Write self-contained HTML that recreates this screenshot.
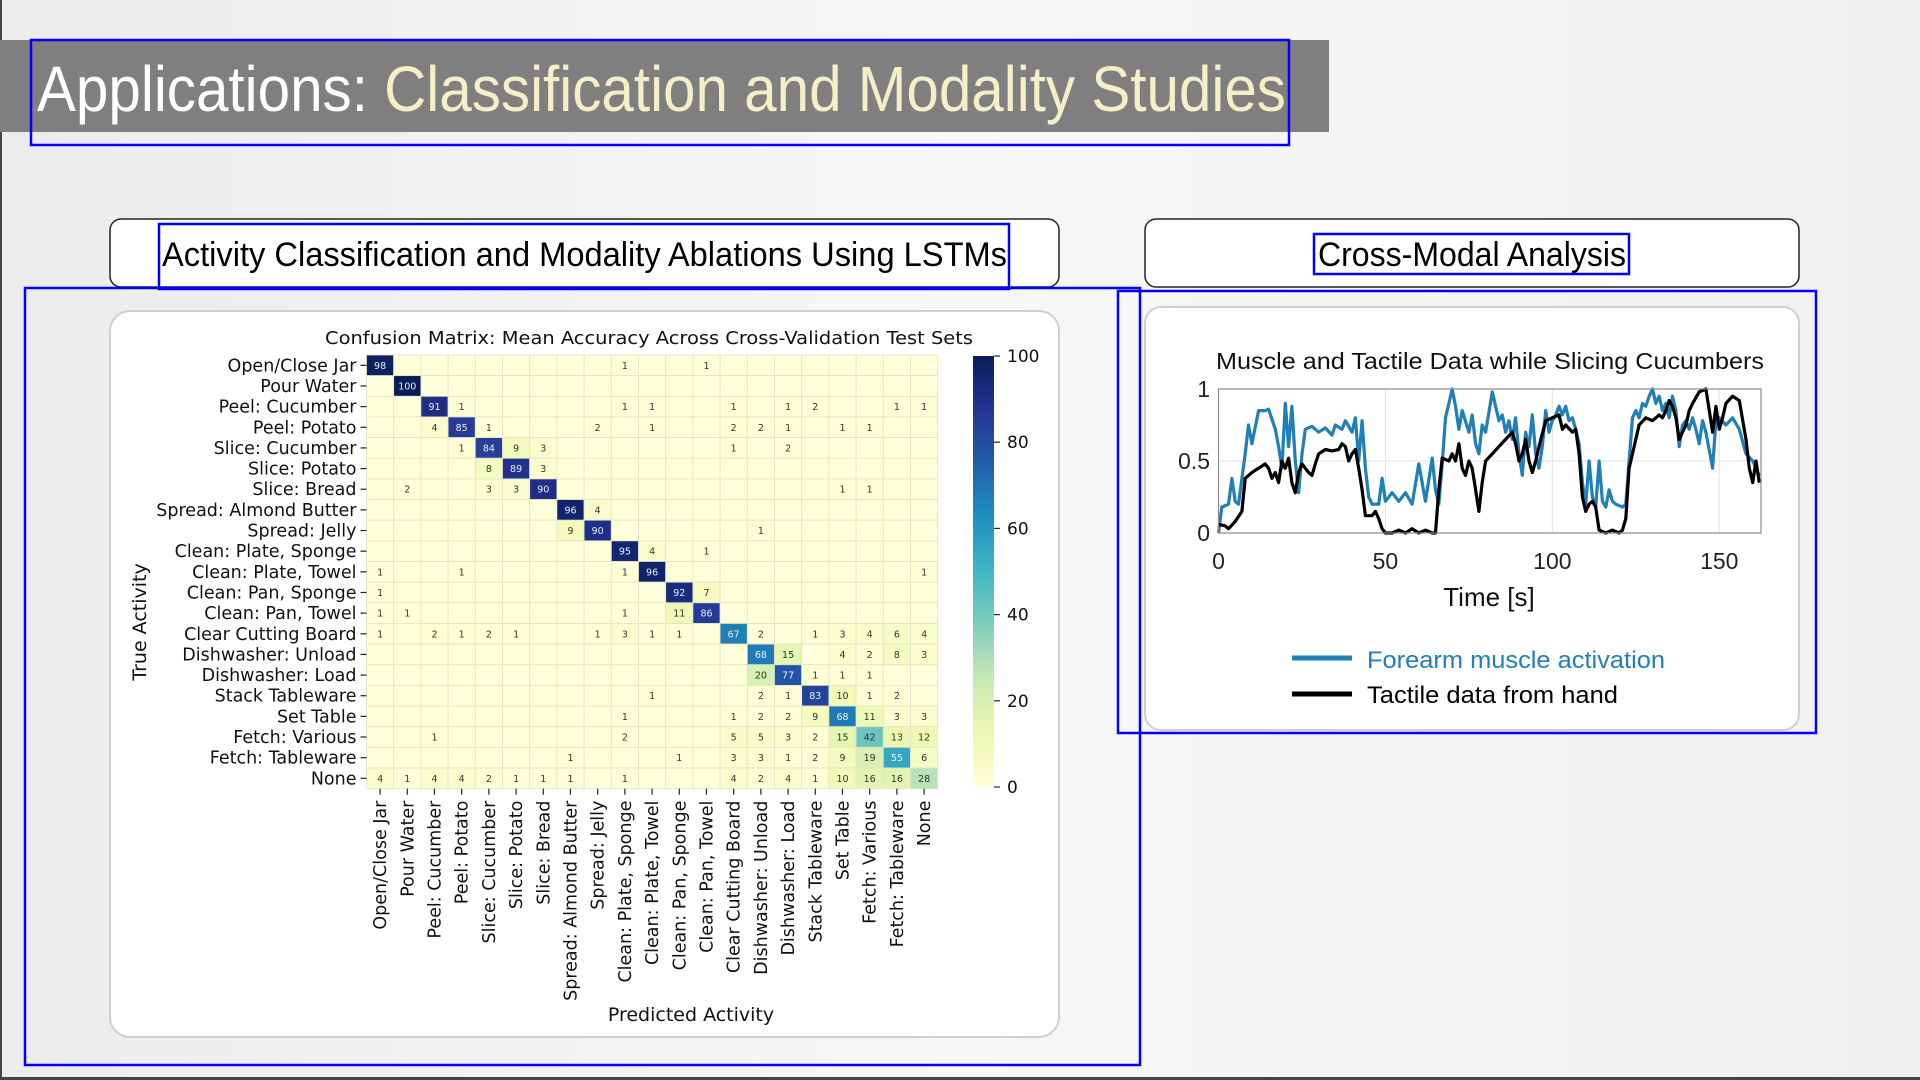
<!DOCTYPE html>
<html><head><meta charset="utf-8"><title>Applications: Classification and Modality Studies</title>
<style>
html,body{margin:0;padding:0;width:1920px;height:1080px;overflow:hidden;background:#f2f2f2;}
svg{display:block;}
</style></head>
<body>
<svg id="slide" width="1920" height="1080" viewBox="0 0 1920 1080" xmlns="http://www.w3.org/2000/svg">
<defs>
<linearGradient id="bg" x1="0" y1="0" x2="1" y2="0"><stop offset="0" stop-color="#ececec"/><stop offset="0.5" stop-color="#f7f7f7"/><stop offset="1" stop-color="#f0f0f0"/></linearGradient>
<linearGradient id="cbar" x1="0" y1="1" x2="0" y2="0">
<stop offset="0" stop-color="#ffffd9"/><stop offset="0.125" stop-color="#edf8b1"/><stop offset="0.25" stop-color="#c7e9b4"/><stop offset="0.375" stop-color="#7fcdbb"/><stop offset="0.5" stop-color="#41b6c4"/><stop offset="0.625" stop-color="#1d91c0"/><stop offset="0.75" stop-color="#225ea8"/><stop offset="0.875" stop-color="#253494"/><stop offset="1" stop-color="#081d58"/>
</linearGradient>
</defs>
<rect x="0" y="0" width="1920" height="1080" fill="url(#bg)"/>
<rect x="0" y="0" width="2" height="1080" fill="#444"/>
<rect x="0" y="1077" width="1920" height="3" fill="#444"/>

<rect x="0" y="40" width="1329" height="92" fill="#7f7f7f"/>
<text x="37" y="111" font-family="Liberation Sans, sans-serif" font-size="64" textLength="1249" lengthAdjust="spacingAndGlyphs"><tspan fill="#ffffff">Applications: </tspan><tspan fill="#f4efc6">Classification and Modality Studies</tspan></text>
<rect x="31" y="40" width="1258" height="105" fill="none" stroke="#0000ff" stroke-width="2.5"/>

<rect x="110" y="219" width="949" height="68" rx="11" fill="#ffffff" stroke="#222" stroke-width="1.5"/>
<text x="162" y="266" font-family="Liberation Sans, sans-serif" font-size="34" fill="#000" textLength="845" lengthAdjust="spacingAndGlyphs">Activity Classification and Modality Ablations Using LSTMs</text>
<rect x="159" y="224" width="850" height="65" fill="none" stroke="#0000ff" stroke-width="2.5"/>

<rect x="1145" y="219" width="654" height="68" rx="11" fill="#ffffff" stroke="#222" stroke-width="1.5"/>
<text x="1318" y="266" font-family="Liberation Sans, sans-serif" font-size="34" fill="#000" textLength="308" lengthAdjust="spacingAndGlyphs">Cross-Modal Analysis</text>
<rect x="1314" y="234" width="315" height="40" fill="none" stroke="#0000ff" stroke-width="2.5"/>

<rect x="110" y="311" width="949" height="726" rx="20" fill="#ffffff" stroke="#cfcfcf" stroke-width="2"/>
<rect x="1145" y="307" width="654" height="423" rx="16" fill="#ffffff" stroke="#cfcfcf" stroke-width="2"/>

<g id="cm"></g>
<g id="lc"></g>

<rect x="25" y="288" width="1115" height="777" fill="none" stroke="#0000ff" stroke-width="2.5"/>
<rect x="1118" y="291" width="698" height="442" fill="none" stroke="#0000ff" stroke-width="2.5"/>
</svg>
<script>
// ---------- Confusion matrix data ----------
const activities = ["Open/Close Jar","Pour Water","Peel: Cucumber","Peel: Potato","Slice: Cucumber","Slice: Potato","Slice: Bread","Spread: Almond Butter","Spread: Jelly","Clean: Plate, Sponge","Clean: Plate, Towel","Clean: Pan, Sponge","Clean: Pan, Towel","Clear Cutting Board","Dishwasher: Unload","Dishwasher: Load","Stack Tableware","Set Table","Fetch: Various","Fetch: Tableware","None"];
const row00 = [98,0,0,0,0,0,0,0,0,1,0,0,1,0,0,0,0,0,0,0,0];
const row01 = [0,100,0,0,0,0,0,0,0,0,0,0,0,0,0,0,0,0,0,0,0];
const row02 = [0,0,91,1,0,0,0,0,0,1,1,0,0,1,0,1,2,0,0,1,1];
const row03 = [0,0,4,85,1,0,0,0,2,0,1,0,0,2,2,1,0,1,1,0,0];
const row04 = [0,0,0,1,84,9,3,0,0,0,0,0,0,1,0,2,0,0,0,0,0];
const row05 = [0,0,0,0,8,89,3,0,0,0,0,0,0,0,0,0,0,0,0,0,0];
const row06 = [0,2,0,0,3,3,90,0,0,0,0,0,0,0,0,0,0,1,1,0,0];
const row07 = [0,0,0,0,0,0,0,96,4,0,0,0,0,0,0,0,0,0,0,0,0];
const row08 = [0,0,0,0,0,0,0,9,90,0,0,0,0,0,1,0,0,0,0,0,0];
const row09 = [0,0,0,0,0,0,0,0,0,95,4,0,1,0,0,0,0,0,0,0,0];
const row10 = [1,0,0,1,0,0,0,0,0,1,96,0,0,0,0,0,0,0,0,0,1];
const row11 = [1,0,0,0,0,0,0,0,0,0,0,92,7,0,0,0,0,0,0,0,0];
const row12 = [1,1,0,0,0,0,0,0,0,1,0,11,86,0,0,0,0,0,0,0,0];
const row13 = [1,0,2,1,2,1,0,0,1,3,1,1,0,67,2,0,1,3,4,6,4];
const row14 = [0,0,0,0,0,0,0,0,0,0,0,0,0,0,68,15,0,4,2,8,3];
const row15 = [0,0,0,0,0,0,0,0,0,0,0,0,0,0,20,77,1,1,1,0,0];
const row16 = [0,0,0,0,0,0,0,0,0,0,1,0,0,0,2,1,83,10,1,2,0];
const row17 = [0,0,0,0,0,0,0,0,0,1,0,0,0,1,2,2,9,68,11,3,3];
const row18 = [0,0,1,0,0,0,0,0,0,2,0,0,0,5,5,3,2,15,42,13,12];
const row19 = [0,0,0,0,0,0,0,1,0,0,0,1,0,3,3,1,2,9,19,55,6];
const row20 = [4,1,4,4,2,1,1,1,0,1,0,0,0,4,2,4,1,10,16,16,28];
const matrix = [row00,row01,row02,row03,row04,row05,row06,row07,row08,row09,row10,row11,row12,row13,row14,row15,row16,row17,row18,row19,row20];
const colorbarTicks = [0,20,40,60,80,100];

// ---------- Line chart data ----------
const muscleTime = [0,1,3,4,5,6,8,9,10,12,14,15,17,18,19,20,21,22,23,24,25,26,28,30,32,34,35,37,38,40,41,42,43,44,45,46,48,49,50,52,54,56,58,60,62,64,65,66,67,68,69,70,71,72,73,75,76,77,78,79,80,82,84,85,86,87,88,89,90,91,92,93,94,95,96,97,98,99,100,101,102,103,104,105,106,107,108,109,110,111,112,113,114,115,116,117,118,119,121,122,123,124,125,126,127,128,129,130,131,132,133,134,135,136,137,138,139,140,141,142,143,144,145,146,148,149,150,152,154,156,158,160,162];
const muscleValue = [0,0.18,0.2,0.38,0.22,0.2,0.55,0.75,0.62,0.85,0.85,0.86,0.72,0.6,0.45,0.9,0.6,0.88,0.5,0.28,0.55,0.72,0.74,0.7,0.73,0.68,0.75,0.72,0.78,0.7,0.8,0.5,0.78,0.45,0.25,0.2,0.2,0.38,0.22,0.28,0.22,0.28,0.2,0.48,0.22,0.52,0.3,0.2,0.48,0.8,0.9,1.0,0.88,0.72,0.85,0.7,0.82,0.62,0.55,0.75,0.7,0.98,0.78,0.82,0.7,0.78,0.65,0.8,0.55,0.4,0.7,0.6,0.82,0.55,0.45,0.6,0.85,0.7,0.78,0.82,0.88,0.82,0.88,0.78,0.8,0.72,0.62,0.35,0.2,0.5,0.25,0.18,0.5,0.22,0.18,0.3,0.22,0.2,0.18,0.2,0.5,0.8,0.85,0.8,0.9,0.88,0.95,1.0,0.9,0.95,0.85,0.9,0.8,0.95,0.85,0.6,0.75,0.78,0.72,0.8,0.72,0.62,0.78,0.7,0.45,0.78,0.8,0.75,0.8,0.72,0.55,0.5,0.4];
const tactileTime = [0,2,3,5,7,8,10,12,14,15,16,17,18,19,20,21,22,23,24,25,26,27,28,29,30,32,34,36,37,38,39,40,41,42,43,44,46,47,48,49,50,52,54,56,58,60,62,64,65,66,67,69,70,71,72,73,74,75,76,77,78,79,80,82,84,86,88,89,90,91,92,93,94,95,96,98,100,102,103,104,106,107,108,109,110,111,112,113,114,116,118,120,121,122,123,124,126,128,130,132,133,134,135,136,137,138,139,140,141,142,144,146,147,148,149,150,151,152,154,156,158,159,160,161,162];
const tactileValue = [0.06,0.05,0.03,0.08,0.15,0.38,0.42,0.45,0.48,0.45,0.38,0.42,0.35,0.5,0.45,0.52,0.35,0.28,0.42,0.48,0.45,0.42,0.4,0.48,0.55,0.58,0.57,0.58,0.62,0.6,0.5,0.55,0.58,0.45,0.3,0.12,0.12,0.15,0.1,0.03,0,0,0.02,0,0.03,0,0.02,0,0,0.3,0.52,0.5,0.55,0.5,0.62,0.45,0.4,0.5,0.45,0.3,0.15,0.35,0.5,0.55,0.6,0.65,0.7,0.62,0.5,0.55,0.65,0.5,0.42,0.5,0.6,0.78,0.8,0.82,0.72,0.75,0.7,0.72,0.55,0.25,0.15,0.2,0.22,0.18,0.02,0,0.02,0,0.02,0.1,0.45,0.55,0.75,0.8,0.78,0.82,0.8,0.85,0.92,0.88,0.8,0.65,0.7,0.75,0.85,0.9,0.98,1.0,0.85,0.7,0.88,0.72,0.8,0.9,0.95,0.92,0.65,0.45,0.35,0.5,0.35];
const xTicks = [0,50,100,150];
const yTicks = [0,0.5,1];
const yTickLabels = ["0","0.5","1"];

const NS = "http://www.w3.org/2000/svg";
function mk(parent, tag, attrs, text){
  const e = document.createElementNS(NS, tag);
  for (const k in attrs) e.setAttribute(k, attrs[k]);
  if (text !== undefined) e.textContent = text;
  parent.appendChild(e);
  return e;
}
const STOPS = ["#ffffd9","#edf8b1","#c7e9b4","#7fcdbb","#41b6c4","#1d91c0","#225ea8","#253494","#081d58"];
function hex(h){return [parseInt(h.slice(1,3),16),parseInt(h.slice(3,5),16),parseInt(h.slice(5,7),16)];}
function cmap(v){
  const t = Math.max(0,Math.min(1,v/100))*(STOPS.length-1);
  const i = Math.min(STOPS.length-2, Math.floor(t)); const f = t-i;
  const a = hex(STOPS[i]), b = hex(STOPS[i+1]);
  return "rgb("+a.map((x,k)=>Math.round(x+(b[k]-x)*f)).join(",")+")";
}

// ---------- Confusion matrix ----------
(function(){
  const g = document.getElementById("cm");
  const X0 = 366.5, Y0 = 355, CW = 27.2, RH = 20.65;
  const n = activities.length;
  const colX = j => X0 + j*CW;
  const rowY = i => Y0 + i*RH;
  const DF = "DejaVu Sans, Liberation Sans, sans-serif";
  const title = mk(g,"text",{x:649,y:344,"font-family":DF,"font-size":18,"text-anchor":"middle",fill:"#111",textLength:648,lengthAdjust:"spacingAndGlyphs"},"Confusion Matrix: Mean Accuracy Across Cross-Validation Test Sets");
  
  
  for (let i=0;i<n;i++){
    for (let j=0;j<n;j++){
      const v = matrix[i][j];
      const r = mk(g,"rect",{x:colX(j),y:rowY(i),width:CW,height:RH,fill:cmap(v),stroke:"#e2e2c8","stroke-width":0.8});
      
      
      if (v>0){
        const t = mk(g,"text",{x:colX(j)+CW/2,y:rowY(i)+RH/2+3.5,"font-family":DF,"font-size":9.5,"text-anchor":"middle",fill:v>50?"#e8eef8":"#333"},String(v));
        
        
      }
    }
  }
  for (let i=0;i<n;i++){
    const y = rowY(i)+RH/2;
    const tk = mk(g,"line",{x1:X0-6,x2:X0,y1:y,y2:y,stroke:"#222","stroke-width":1.2});
    
    
    const lb = mk(g,"text",{x:X0-10,y:y+6,"font-family":DF,"font-size":17.5,"text-anchor":"end",fill:"#111"},activities[i]);
    
    
  }
  const yb = rowY(n);
  for (let j=0;j<n;j++){
    const x = colX(j)+CW/2;
    const tk = mk(g,"line",{x1:x,x2:x,y1:yb,y2:yb+6,stroke:"#222","stroke-width":1.2});
    
    
    const lb = mk(g,"text",{x:0,y:0,"font-family":DF,"font-size":17.5,"text-anchor":"end",fill:"#111",transform:"translate("+(x+6)+","+(yb+12)+") rotate(-90)"},activities[j]);
    
    
  }
  const ya = mk(g,"text",{x:0,y:0,"font-family":DF,"font-size":19,"text-anchor":"middle",fill:"#111",transform:"translate(146,622) rotate(-90)"},"True Activity");
  
  
  const xa = mk(g,"text",{x:691,y:1021,"font-family":DF,"font-size":19,"text-anchor":"middle",fill:"#111"},"Predicted Activity");
  
  
  const CB0 = 787, CB1 = 356, CBX = 973, CBW = 21;
  const cbY = v => CB0 + (CB1-CB0)*v/100;
  const cb = mk(g,"rect",{x:CBX,y:CB1,width:CBW,height:CB0-CB1,fill:"url(#cbar)"});
  
  
  colorbarTicks.forEach(v=>{
    const y = cbY(v);
    const tk = mk(g,"line",{x1:CBX+CBW,x2:CBX+CBW+6,y1:y,y2:y,stroke:"#222","stroke-width":1.2});
    
    
    const lb = mk(g,"text",{x:CBX+CBW+13,y:y+6,"font-family":DF,"font-size":17,fill:"#111"},String(v));
    
    
  });
})();

// ---------- Line chart ----------
(function(){
  const g = document.getElementById("lc");
  const PX0 = 1218.5, PX1 = 1761, PY0 = 533, PY1 = 389, XMAX = 162.5;
  const sx = v => PX0 + (PX1-PX0)*v/XMAX;
  const sy = v => PY0 + (PY1-PY0)*v;
  const AF = "Liberation Sans, sans-serif";
  const t = mk(g,"text",{x:1216,y:369,"font-family":AF,"font-size":23,fill:"#111",textLength:548,lengthAdjust:"spacingAndGlyphs"},"Muscle and Tactile Data while Slicing Cucumbers");
  
  
  const bg = mk(g,"rect",{x:PX0,y:PY1,width:PX1-PX0,height:PY0-PY1,fill:"#fff"});
  
  
  xTicks.forEach(v=>{
    if (v>0){
      const gl = mk(g,"line",{x1:sx(v),x2:sx(v),y1:PY1,y2:PY0,stroke:"#e3e3e3","stroke-width":1});
      
      
    }
    const lb = mk(g,"text",{x:sx(v),y:569,"font-family":AF,"font-size":23,"text-anchor":"middle",fill:"#222"},String(v));
    
    
  });
  yTicks.forEach((v,k)=>{
    if (v>0 && v<1){
      const gl = mk(g,"line",{x1:PX0,x2:PX1,y1:sy(v),y2:sy(v),stroke:"#e3e3e3","stroke-width":1});
      
      
    }
    const lb = mk(g,"text",{x:1210,y:sy(v)+8,"font-family":AF,"font-size":23,"text-anchor":"end",fill:"#222"},yTickLabels[k]);
    
    
  });
  const pts = (ts,vs)=>ts.map((tt,i)=>sx(tt).toFixed(1)+","+sy(vs[i]).toFixed(1)).join(" ");
  const mus = mk(g,"polyline",{points:pts(muscleTime,muscleValue),fill:"none",stroke:"#1f7fb6","stroke-width":3.2,"stroke-linejoin":"round"});
  
  
  const tac = mk(g,"polyline",{points:pts(tactileTime,tactileValue),fill:"none",stroke:"#000","stroke-width":3.2,"stroke-linejoin":"round"});
  
  
  const fr = mk(g,"rect",{x:PX0,y:PY1,width:PX1-PX0,height:PY0-PY1,fill:"none",stroke:"#8a8a8a","stroke-width":1.2});
  
  
  const xt = mk(g,"text",{x:1489,y:606,"font-family":AF,"font-size":26,"text-anchor":"middle",fill:"#111"},"Time [s]");
  
  
  const l1 = mk(g,"line",{x1:1292,x2:1352,y1:658,y2:658,stroke:"#1f7fb6","stroke-width":5});
  
  
  const t1 = mk(g,"text",{x:1367,y:668,"font-family":AF,"font-size":24,fill:"#1f7fb6",textLength:298,lengthAdjust:"spacingAndGlyphs"},"Forearm muscle activation");
  
  
  const l2 = mk(g,"line",{x1:1292,x2:1352,y1:694,y2:694,stroke:"#000","stroke-width":5});
  
  
  const t2 = mk(g,"text",{x:1367,y:703,"font-family":AF,"font-size":24,fill:"#000",textLength:251,lengthAdjust:"spacingAndGlyphs"},"Tactile data from hand");
  
  
})();
</script>
</body></html>
